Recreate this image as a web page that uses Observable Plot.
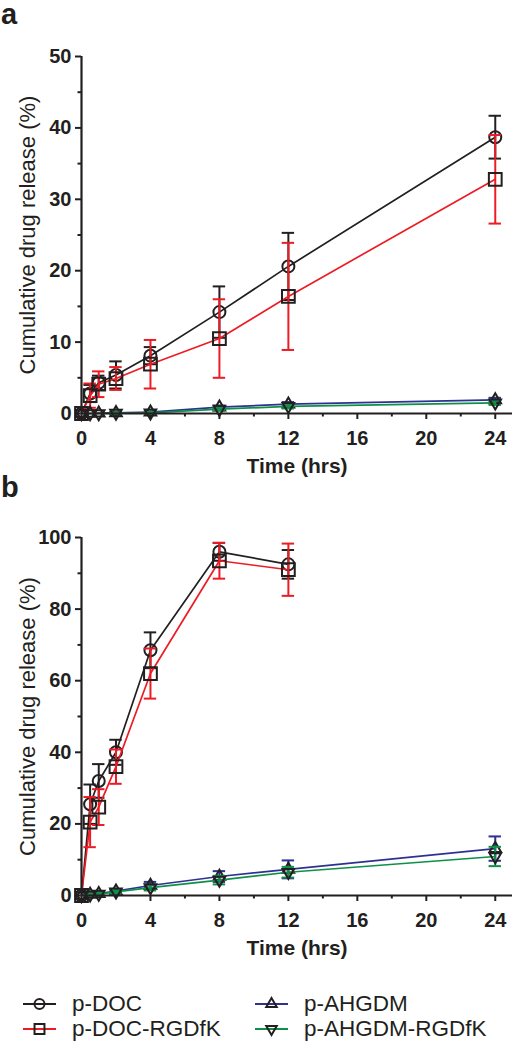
<!DOCTYPE html>
<html>
<head>
<meta charset="utf-8">
<script src="https://cdn.jsdelivr.net/npm/d3@7"></script>
<script src="https://cdn.jsdelivr.net/npm/@observablehq/plot@0.6"></script>
<style>
  html, body { margin: 0; padding: 0; background: #fff; }
  #fig { position: relative; width: 515px; height: 1050px; font-family: "Liberation Sans", Arial, sans-serif; color: #231f20; }
  .panel { position: absolute; left: 0; }
  .plabel { position: absolute; left: 1px; font-weight: bold; font-size: 29px; line-height: 0.8; z-index: 2; }
  #legend { position: absolute; left: 0; top: 991px; width: 515px; }
  .lg { position: absolute; display: flex; align-items: center; font-size: 22.5px; white-space: nowrap; }
  .lg svg { margin-right: 16px; }
</style>
</head>
<body>
<div id="fig">
  <div class="panel" id="pa" style="top:0px"></div>
  <div class="panel" id="pb" style="top:480px"></div>
  <div class="plabel" style="top:3px">a</div>
  <div class="plabel" style="top:476px">b</div>
  <div id="legend"></div>
</div>
<script>
// ---------- data ----------
const seriesNames = ["p-DOC", "p-DOC-RGDfK", "p-AHGDM", "p-AHGDM-RGDfK"];
const seriesColors = ["#231f20", "#ed1c24", "#2e3192", "#0f9048"];
const seriesSymbols = ["circle", "square", "triangle", "triangleDown"];

const timesA = [0, 0.5, 1, 2, 4, 8, 12, 24];
const docA = [0, 2.8, 4.3, 5.4, 8.1, 14.2, 20.6, 38.7];
const docSdA = [0, 1.2, 1.0, 1.9, 1.2, 3.6, 4.7, 3.0];
const docRgdA = [0, 2.5, 4.1, 4.9, 6.9, 10.5, 16.4, 32.8];
const docRgdSdA = [0, 1.7, 1.8, 1.6, 3.4, 5.5, 7.5, 6.2];
const ahgdmA = [0, 0, 0.05, 0.1, 0.2, 0.9, 1.3, 1.9];
const ahgdmSdA = [0, 0, 0, 0.1, 0.1, 0.2, 0.3, 0.3];
const ahgdmRgdA = [0, 0, 0, 0.05, 0.1, 0.6, 1.0, 1.5];
const ahgdmRgdSdA = [0, 0, 0, 0.1, 0.1, 0.2, 0.3, 0.3];

const timesBdoc = [0, 0.5, 1, 2, 4, 8, 12];
const docB = [0, 25.5, 32, 40, 68.5, 96, 92.5];
const docSdB = [0, 5.5, 4.7, 3.5, 5, 2.5, 4];
const docRgdB = [0, 20.5, 24.7, 36, 62, 93.5, 91];
const docRgdSdB = [0, 7, 5, 4.8, 7, 5, 7.3];
const timesB = [0, 0.5, 1, 2, 4, 8, 12, 24];
const ahgdmB = [0, 0.3, 0.5, 1.2, 2.8, 5.3, 7.3, 13.1];
const ahgdmSdB = [0, 0.3, 0.4, 0.6, 1.0, 1.5, 2.5, 3.4];
const ahgdmRgdB = [0, 0.2, 0.4, 1.0, 2.2, 4.3, 6.5, 10.9];
const ahgdmRgdSdB = [0, 0.3, 0.4, 0.5, 0.8, 1.2, 1.5, 2.7];

const xMajor = [0, 4, 8, 12, 16, 20, 24];
const xMinor = [2, 6, 10, 14, 18, 22];
const yMajorA = [0, 10, 20, 30, 40, 50];
const yMinorA = [5, 15, 25, 35, 45];
const yMajorB = [0, 20, 40, 60, 80, 100];
const yMinorB = [10, 30, 50, 70, 90];

const xLabel = "Time (hrs)";
const yLabel = "Cumulative drug release (%)";

// ---------- helpers ----------
const sqrt3 = Math.sqrt(3);
const triangleDown = {
  draw(context, size) {
    const y = -Math.sqrt(size / (sqrt3 * 3));
    context.moveTo(0, -y * 2);
    context.lineTo(-sqrt3 * y, y);
    context.lineTo(sqrt3 * y, y);
    context.closePath();
  }
};
const symbolOf = (s) => s === "triangleDown" ? triangleDown : s;
const radiusOf = (s) => s === "circle" ? 6 : s === "square" ? 7.2 : 4.3;

function rows(times, vals, sds) {
  return times.map((t, i) => ({t, y: vals[i], sd: sds[i]}));
}

function panel(seriesData, yDomain, yMajor, yMinor, opts) {
  const marks = [];
  const capHalf = 0.36;
  seriesData.forEach((data, k) => {
    const color = seriesColors[k];
    const eb = data.filter(d => d.sd > 0);
    marks.push(Plot.ruleX(eb, {x: "t", y1: d => d.y - d.sd, y2: d => d.y + d.sd, stroke: color, strokeWidth: 2}));
    marks.push(Plot.ruleY(eb, {y: d => d.y + d.sd, x1: d => d.t - capHalf, x2: d => d.t + capHalf, stroke: color, strokeWidth: 2}));
    marks.push(Plot.ruleY(eb, {y: d => d.y - d.sd, x1: d => d.t - capHalf, x2: d => d.t + capHalf, stroke: color, strokeWidth: 2}));
    marks.push(Plot.line(data, {x: "t", y: "y", stroke: color, strokeWidth: 1.7}));
    marks.push(Plot.dot(data, {x: "t", y: "y", symbol: symbolOf(seriesSymbols[k]), r: radiusOf(seriesSymbols[k]), stroke: "#231f20", fill: "none", strokeWidth: 2}));
  });
  return Plot.plot({
    width: 515,
    height: 480,
    marginLeft: 81,
    marginRight: 3,
    marginTop: opts.top,
    marginBottom: opts.bottom,
    style: {fontFamily: "'Liberation Sans', Arial, sans-serif", color: "#231f20", background: "transparent", overflow: "visible"},
    x: {domain: [0, 25]},
    y: {domain: yDomain},
    marks: [
      Plot.axisX({ticks: xMajor, tickSize: 6, tickPadding: 11, fontSize: 20, fontWeight: "bold", strokeWidth: 2, label: null, tickFormat: d => String(d)}),
      Plot.axisX({ticks: xMinor, tickSize: 3.5, strokeWidth: 2, label: null, tickFormat: () => ""}),
      Plot.axisY({ticks: yMajor, tickSize: 6, tickPadding: 4, fontSize: 20, fontWeight: "bold", strokeWidth: 2, label: null, tickFormat: d => String(d)}),
      Plot.axisY({ticks: yMinor, tickSize: 3.5, strokeWidth: 2, label: null, tickFormat: () => ""}),
      Plot.text([yLabel], {frameAnchor: "left", textAnchor: "middle", rotate: -90, dx: -54, fontSize: 22, fill: "#231f20", text: d => d}),
      Plot.text([xLabel], {frameAnchor: "bottom", textAnchor: "middle", dy: 59, fontSize: 21, fontWeight: "bold", fill: "#231f20", text: d => d}),
      ...marks,
      Plot.ruleY([yDomain[0]], {stroke: "#231f20", strokeWidth: 2.2}),
      Plot.ruleX([0], {stroke: "#231f20", strokeWidth: 2.2})
    ]
  });
}

const dataA = [
  rows(timesA, docA, docSdA),
  rows(timesA, docRgdA, docRgdSdA),
  rows(timesA, ahgdmA, ahgdmSdA),
  rows(timesA, ahgdmRgdA, ahgdmRgdSdA)
];
const dataB = [
  rows(timesBdoc, docB, docSdB),
  rows(timesBdoc, docRgdB, docRgdSdB),
  rows(timesB, ahgdmB, ahgdmSdB),
  rows(timesB, ahgdmRgdB, ahgdmRgdSdB)
];

document.getElementById("pa").appendChild(panel(dataA, [0, 50], yMajorA, yMinorA, {top: 56, bottom: 67}));
document.getElementById("pb").appendChild(panel(dataB, [0, 100], yMajorB, yMinorB, {top: 57, bottom: 65}));

// ---------- legend ----------
const legend = document.getElementById("legend");
const positions = [[23, 0], [23, 25], [255, 0], [255, 25]];
seriesNames.forEach((name, k) => {
  const item = document.createElement("div");
  item.className = "lg";
  item.style.left = positions[k][0] + "px";
  item.style.top = positions[k][1] + "px";
  const svg = d3.create("svg").attr("width", 33).attr("height", 20);
  svg.append("line").attr("x1", 0).attr("x2", 33).attr("y1", 10).attr("y2", 10)
    .attr("stroke", seriesColors[k]).attr("stroke-width", 2.2);
  const sym = symbolOf(seriesSymbols[k]);
  const symType = sym === "circle" ? d3.symbolCircle : sym === "square" ? d3.symbolSquare : sym === "triangle" ? d3.symbolTriangle : sym;
  const r = seriesSymbols[k] === "circle" ? 5 : seriesSymbols[k] === "square" ? 5.6 : 3.9;
  svg.append("path").attr("transform", "translate(16.5,10)")
    .attr("d", d3.symbol(symType, Math.PI * r * r)())
    .attr("fill", "none").attr("stroke", "#231f20").attr("stroke-width", 2);
  item.appendChild(svg.node());
  const span = document.createElement("span");
  span.textContent = name;
  item.appendChild(span);
  legend.appendChild(item);
});
</script>
</body>
</html>
